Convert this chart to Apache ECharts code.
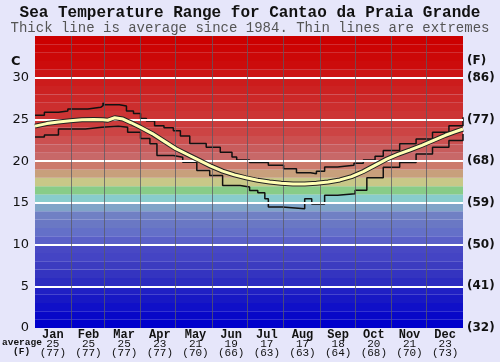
<!DOCTYPE html>
<html><head><meta charset="utf-8">
<script src="https://cdn.jsdelivr.net/npm/echarts@6/dist/echarts.min.js"></script>
<style>html,body{margin:0;padding:0;background:#e6e6fa}#c{width:500px;height:362px}</style>
</head><body><div id="c"></div>
<script>
const titleText = 'Sea Temperature Range for Cantao da Praia Grande';
const subtitleText = 'Thick line is average since 1984. Thin lines are extremes';
const months = ['Jan','Feb','Mar','Apr','May','Jun','Jul','Aug','Sep','Oct','Nov','Dec'];
const monthAvgC = [25,25,25,23,21,19,17,17,18,20,21,23];
const monthAvgF = [77,77,77,77,70,66,63,63,64,68,70,73];
const monthBoundaryDays = [31,59,90,120,151,181,212,243,273,304,334];
const yTicksC = [5,10,15,20,25,30];

const avgDays = [0,10,20,30,40,50,58,62,68,75,82,90,100,110,120,130,140,150,160,170,180,190,200,210,220,230,240,250,260,270,280,290,300,310,320,330,340,350,358,365];
const avgTemp = [24.2,24.5,24.7,24.85,24.95,25.0,24.95,24.9,25.2,25.05,24.6,24.05,23.3,22.4,21.5,20.8,20.1,19.4,18.8,18.35,18.0,17.7,17.5,17.35,17.25,17.25,17.35,17.5,17.75,18.15,18.75,19.5,20.25,20.85,21.35,21.9,22.5,23.1,23.5,23.85];

const maxDays = [0,8,20,28,45,56,58,59,72,78,84,90,95,102,110,118,124,132,146,158,168,172,183,190,196,199,212,223,235,240,247,258,272,280,290,297,311,325,339,353,365];
const maxTemp = [25.5,25.85,26.0,26.25,26.45,26.65,27.0,26.75,26.6,26.0,25.7,25.1,24.8,24.25,24.0,23.65,23.0,22.1,21.66,21.06,20.5,20.15,19.85,19.85,19.85,19.5,19.1,18.6,18.5,18.8,19.3,19.5,19.75,20.15,20.6,21.27,22.07,22.66,23.45,24.25,25.25];

const minDays = [0,8,20,28,43,57,71,79,90,98,104,118,126,138,149,160,175,183,190,196,199,211,230,236,247,258,273,283,297,311,325,339,353,365];
const minTemp = [22.9,23.14,23.86,23.86,24.05,24.17,24.05,23.45,22.7,22.07,20.67,20.47,19.87,18.88,18.28,17.09,16.89,16.49,16.2,15.5,14.5,14.3,15.5,14.85,15.9,16.1,16.5,18.0,19.27,19.85,20.87,21.66,22.46,23.26];

const bandColors = ['#0000cc','#0808c8','#1010c8','#1818c4','#2020c4','#2c2cc0','#3434c0','#3c3cc0','#4444c4','#4848c4',
  '#5a60c8','#6470c8','#6a78c4','#7080c4','#80a4c8','#88cccc','#88cc88','#c8c888','#c8a07c','#cc7a6c',
  '#c86868','#c85c5c','#cc5050','#cc4444','#cc3c3c','#cc3434','#cc2e2e','#cc2828','#cc2222','#cc1c1c',
  '#cc1414','#cc0c0c','#cc0808','#cc0404','#cc0000'];

const zip = (d, v) => d.map((x, i) => [x, v[i]]);
const chart = echarts.init(document.getElementById('c'));
const bandAreas = bandColors.map((c, i) => [{yAxis: i, itemStyle: {color: c}}, {yAxis: i + 1}]);
const mono = 'Liberation Mono';

chart.setOption({
  animation: false,
  backgroundColor: '#e6e6fa',
  title: [
    {text: titleText, left: 'center', top: 5, padding: 0, textStyle: {fontFamily: mono, fontWeight: 'bold', fontSize: 16, lineHeight: 16, color: '#111'}},
    {text: subtitleText, left: 'center', top: 21, padding: 0, textStyle: {fontFamily: mono, fontWeight: 'normal', fontSize: 14, lineHeight: 14, color: '#555'}}
  ],
  grid: {left: 35, right: 37, top: 36, bottom: 34},
  xAxis: [
    {type: 'value', min: 0, max: 365, show: false},
    {type: 'category', data: months, position: 'bottom', boundaryGap: true,
     axisLine: {show: false}, axisTick: {show: false}, splitLine: {show: false},
     axisLabel: {margin: 2, interval: 0,
       formatter: (v, i) => `{m|${v}}\n{v|${monthAvgC[i]}}\n{v|(${monthAvgF[i]})}`,
       rich: {
         m: {fontFamily: mono, fontWeight: 'bold', fontSize: 12, lineHeight: 10, color: '#111'},
         v: {fontFamily: mono, fontSize: 11, lineHeight: 9, color: '#111'}
       }}}
  ],
  yAxis: [
    {type: 'value', min: 0, max: 35, interval: 5, position: 'left',
     axisLine: {show: false}, axisTick: {show: false}, splitLine: {show: false},
     axisLabel: {margin: 6, fontFamily: 'DejaVu Sans', fontSize: 13, color: '#111', formatter: v => v === 35 ? '' : String(v)}},
    {type: 'value', min: 0, max: 35, interval: 5, position: 'right',
     axisLine: {show: false}, axisTick: {show: false}, splitLine: {show: false},
     axisLabel: {margin: 4, fontFamily: 'DejaVu Sans', fontWeight: 'bold', fontSize: 12, color: '#111', formatter: v => v === 35 ? '' : '(' + Math.round(v * 9 / 5 + 32) + ')'}}
  ],
  graphic: [
    {type: 'text', left: 11, top: 55, style: {text: 'C', font: 'bold 13px "DejaVu Sans"', fill: '#111'}},
    {type: 'text', left: 467, top: 55, style: {text: '(F)', font: 'bold 12px "DejaVu Sans"', fill: '#111'}},
    {type: 'text', left: 2, top: 338, style: {text: 'average', font: 'bold 9.5px "Liberation Mono"', fill: '#111'}},
    {type: 'text', left: 13, top: 347, style: {text: '(F)', font: 'bold 9.5px "Liberation Mono"', fill: '#111'}}
  ],
  series: [
    {type: 'line', xAxisIndex: 0, yAxisIndex: 0, data: [], z: 1, silent: true,
     markArea: {silent: true, itemStyle: {borderWidth: 0}, data: bandAreas}},
    {type: 'line', xAxisIndex: 0, yAxisIndex: 0, data: [], z: 2, silent: true,
     markLine: {silent: true, symbol: 'none', label: {show: false},
       lineStyle: {color: '#ffffff', width: 2, type: 'solid'},
       data: yTicksC.map(v => ({yAxis: v}))}},
    {type: 'line', xAxisIndex: 0, yAxisIndex: 0, data: [], z: 2, silent: true,
     markLine: {silent: true, symbol: 'none', label: {show: false},
       lineStyle: {color: 'rgba(90,90,100,0.75)', width: 1, type: 'solid'},
       data: monthBoundaryDays.map(d => ({xAxis: d}))}},
    {name: 'max', type: 'line', xAxisIndex: 0, yAxisIndex: 0, data: zip(maxDays, maxTemp), step: 'end', showSymbol: false, z: 4,
     lineStyle: {color: '#111', width: 1.5}},
    {name: 'min', type: 'line', xAxisIndex: 0, yAxisIndex: 0, data: zip(minDays, minTemp), step: 'end', showSymbol: false, z: 4,
     lineStyle: {color: '#111', width: 1.5}},
    {name: 'avgOutline', type: 'line', xAxisIndex: 0, yAxisIndex: 0, data: zip(avgDays, avgTemp), showSymbol: false, z: 5,
     lineStyle: {color: '#222', width: 5}},
    {name: 'avg', type: 'line', xAxisIndex: 0, yAxisIndex: 0, data: zip(avgDays, avgTemp), showSymbol: false, z: 6,
     lineStyle: {color: '#ffffb4', width: 3}}
  ]
});
</script></body></html>
